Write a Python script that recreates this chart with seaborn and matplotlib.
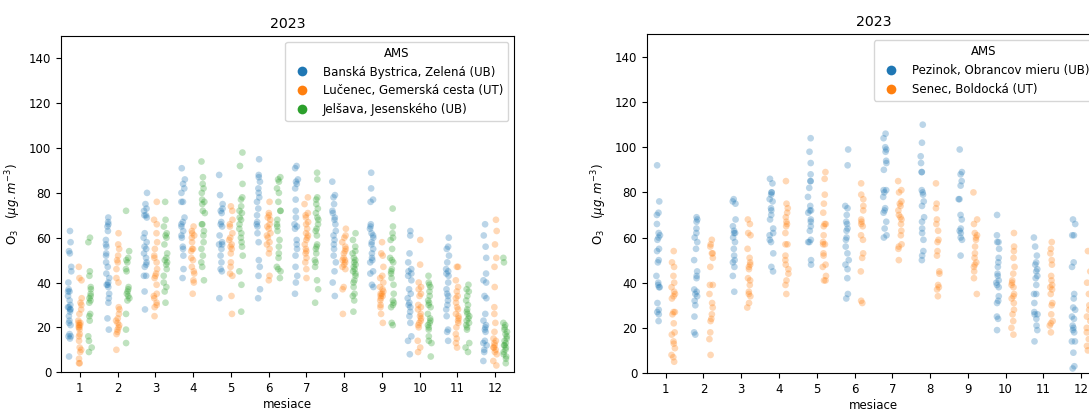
import numpy as np
import pandas as pd
import seaborn as sns
import matplotlib.pyplot as plt

# month categories
months = list(range(1, 13))

# left panel stations (daily O3 values per month)
bb_zelena = [
    [63, 58, 54, 53, 47, 45, 40, 37, 36, 36, 34, 32, 30, 29, 28, 28, 29, 27, 25, 23, 22, 21, 17, 16, 15, 16, 7],
    [69, 67, 66, 65, 63, 59, 57, 56, 53, 52, 49, 47, 44, 42, 40, 39, 38, 39, 35, 33, 31, 24, 19],
    [80, 75, 73, 72, 70, 70, 69, 62, 60, 58, 56, 55, 53, 51, 49, 48, 47, 43, 43, 36, 28],
    [91, 86, 84, 82, 80, 76, 76, 69, 67, 66, 65, 63, 61, 60, 56, 55, 52, 46, 42],
    [88, 79, 75, 73, 72, 71, 67, 66, 65, 61, 58, 57, 57, 55, 52, 49, 46, 45, 33],
    [95, 88, 87, 85, 82, 80, 78, 76, 73, 70, 67, 66, 65, 62, 58, 50, 47, 43, 37, 33],
    [92, 91, 86, 85, 84, 82, 77, 72, 69, 66, 65, 64, 59, 57, 55, 52, 47, 43, 40, 35],
    [85, 79, 78, 75, 72, 71, 69, 68, 66, 63, 61, 59, 57, 55, 52, 49, 45, 40, 34],
    [89, 82, 77, 76, 66, 65, 64, 62, 61, 60, 58, 57, 55, 53, 51, 50, 49, 45, 44, 39, 38],
    [63, 61, 53, 49, 46, 45, 44, 43, 41, 37, 35, 33, 31, 30, 29, 27, 25, 22, 16, 14, 8],
    [60, 56, 55, 52, 49, 46, 45, 44, 43, 40, 37, 35, 34, 32, 30, 28, 25, 19, 18, 14],
    [66, 61, 56, 51, 44, 41, 40, 34, 33, 26, 23, 21, 20, 19, 18, 14, 13, 12, 10, 9, 5],
]
lc_gemerska = [
    [47, 42, 41, 33, 31, 30, 28, 26, 23, 22, 21, 20, 21, 19, 17, 16, 14, 11, 10, 9, 6, 4, 4, 22, 20],
    [62, 57, 55, 52, 50, 49, 46, 42, 40, 29, 28, 26, 24, 23, 22, 21, 20, 19, 18, 17, 10],
    [76, 68, 66, 62, 58, 55, 52, 51, 49, 46, 44, 43, 42, 39, 35, 34, 33, 31, 30, 29, 25],
    [65, 63, 62, 61, 60, 58, 55, 55, 54, 51, 50, 47, 45, 44, 41, 40, 35],
    [74, 72, 68, 66, 65, 62, 60, 59, 57, 56, 55, 53, 49, 47, 44, 43, 34, 26],
    [76, 71, 70, 69, 68, 66, 65, 64, 62, 61, 60, 58, 57, 55, 53, 43, 41],
    [78, 75, 71, 70, 69, 67, 66, 64, 62, 61, 60, 59, 57, 55, 54, 53, 51, 49, 46, 42],
    [64, 61, 60, 58, 56, 55, 54, 53, 51, 50, 50, 49, 48, 47, 46, 38, 37, 26],
    [58, 53, 52, 47, 43, 42, 40, 38, 37, 36, 35, 35, 34, 34, 33, 32, 30, 29, 26, 22],
    [59, 48, 40, 38, 37, 35, 34, 30, 29, 28, 26, 25, 24, 23, 22, 21, 20, 14, 11, 9],
    [47, 47, 41, 38, 36, 34, 33, 31, 29, 28, 26, 25, 24, 23, 22, 20, 17, 15, 13, 11],
    [68, 63, 57, 51, 47, 38, 29, 26, 22, 18, 15, 14, 13, 12, 11, 11, 10, 9, 8, 5, 3],
]
je_jesenskeho = [
    [60, 58, 45, 43, 38, 37, 35, 34, 33, 32, 31, 26, 25, 23, 16, 14, 11, 9],
    [72, 54, 51, 50, 49, 46, 45, 38, 37, 36, 35, 34, 33, 32, 26, 19, 13],
    [76, 68, 65, 62, 61, 60, 57, 53, 51, 50, 49, 48, 46, 43, 40, 38, 36, 31],
    [94, 87, 84, 82, 80, 77, 76, 75, 72, 71, 66, 66, 63, 61, 58, 55, 52, 49, 47, 41],
    [98, 92, 84, 78, 77, 74, 72, 71, 69, 68, 66, 64, 62, 60, 58, 56, 52, 45, 39, 27],
    [87, 86, 85, 82, 80, 76, 72, 72, 68, 66, 65, 63, 59, 56, 53, 51, 47, 46, 45, 42],
    [89, 86, 78, 77, 75, 73, 71, 69, 68, 66, 64, 63, 61, 57, 56, 55, 53, 50, 49, 47, 41, 37, 31],
    [62, 59, 56, 54, 53, 51, 50, 49, 48, 47, 46, 45, 44, 43, 41, 40, 38, 35, 34, 32, 27],
    [73, 65, 62, 60, 59, 55, 51, 50, 49, 46, 45, 44, 42, 39, 35, 32, 31, 30, 29, 22, 21],
    [43, 40, 39, 38, 36, 34, 32, 31, 30, 29, 26, 24, 23, 22, 21, 20, 19, 16, 14, 13, 7],
    [39, 37, 36, 34, 32, 30, 28, 27, 26, 25, 24, 23, 22, 21, 20, 19, 13, 11, 9],
    [51, 49, 22, 21, 20, 19, 18, 17, 16, 15, 14, 13, 12, 12, 11, 10, 9, 8, 7, 6, 4],
]

# right panel stations
pk_obrancov = [
    [92, 76, 71, 70, 66, 62, 61, 60, 59, 55, 54, 50, 49, 43, 40, 39, 38, 38, 31, 28, 27, 26, 23],
    [69, 68, 67, 64, 62, 60, 58, 55, 50, 45, 43, 42, 37, 36, 35, 34, 32, 30, 25, 18, 17],
    [77, 76, 75, 68, 65, 63, 62, 62, 60, 58, 55, 52, 50, 49, 47, 43, 36],
    [86, 84, 80, 80, 79, 77, 76, 73, 72, 70, 68, 64, 62, 61, 59, 58, 53, 47, 45],
    [104, 98, 93, 88, 85, 85, 82, 78, 74, 72, 72, 71, 68, 67, 65, 63, 59, 58, 58, 50, 48],
    [99, 92, 74, 73, 70, 67, 66, 64, 63, 60, 59, 56, 53, 50, 48, 46, 42, 35, 33],
    [106, 104, 100, 99, 98, 94, 93, 90, 81, 81, 80, 78, 73, 72, 71, 67, 64, 61, 60],
    [110, 102, 96, 93, 89, 89, 81, 80, 79, 76, 74, 69, 67, 64, 62, 59, 54, 52, 50],
    [99, 89, 88, 85, 83, 77, 77, 70, 68, 64, 63, 62, 60, 59, 52],
    [70, 61, 58, 58, 55, 51, 49, 47, 44, 43, 41, 40, 39, 38, 34, 32, 31, 25, 24, 19],
    [60, 56, 52, 49, 48, 46, 45, 43, 42, 39, 35, 35, 31, 27, 26, 26, 24, 21, 19, 14],
    [68, 66, 61, 61, 49, 47, 35, 33, 29, 28, 25, 24, 21, 20, 19, 18, 14, 14, 9, 3, 2],
]
se_boldocka = [
    [54, 49, 47, 43, 40, 38, 36, 35, 34, 33, 27, 27, 26, 22, 18, 17, 14, 13, 11, 8, 7, 5],
    [59, 57, 56, 53, 53, 51, 47, 39, 39, 35, 31, 29, 26, 24, 23, 18, 15, 8],
    [68, 66, 62, 61, 55, 51, 49, 48, 47, 46, 42, 41, 39, 36, 35, 34, 31, 29],
    [85, 75, 73, 71, 69, 67, 66, 65, 62, 57, 57, 52, 50, 48, 46, 44, 41, 39, 35],
    [89, 86, 79, 75, 71, 66, 66, 65, 61, 58, 57, 57, 53, 52, 48, 47, 43, 41, 41],
    [84, 79, 77, 74, 72, 68, 67, 66, 65, 61, 59, 53, 51, 45, 32, 31],
    [85, 81, 80, 76, 75, 74, 72, 70, 69, 68, 66, 63, 61, 57, 56, 55, 50],
    [84, 75, 73, 68, 66, 63, 59, 58, 54, 52, 45, 44, 39, 38, 37, 34],
    [80, 68, 66, 62, 61, 60, 59, 56, 53, 51, 49, 48, 47, 45, 42, 35],
    [62, 56, 54, 51, 47, 44, 41, 40, 39, 38, 35, 34, 33, 31, 28, 26, 23, 20, 17],
    [58, 55, 53, 50, 48, 43, 41, 39, 38, 37, 35, 31, 30, 26, 23, 22, 21, 18],
    [54, 45, 40, 35, 30, 28, 25, 23, 20, 18, 15, 12, 10],
]

left_names = ["Banská Bystrica, Zelená (UB)", "Lučenec, Gemerská cesta (UT)", "Jelšava, Jesenského (UB)"]
right_names = ["Pezinok, Obrancov mieru (UB)", "Senec, Boldocká (UT)"]
colors = ["#1f77b4", "#ff7f0e", "#2ca02c"]


def to_long(names, series):
    rows = []
    for name, per_month in zip(names, series):
        for m, vals in zip(months, per_month):
            for v in vals:
                rows.append({"mesiace": m, "O3": v, "AMS": name})
    return pd.DataFrame(rows)


def draw_panel(ax, df, names, jitter):
    sns.stripplot(data=df, x="mesiace", y="O3", hue="AMS", hue_order=names,
                  order=months, palette=colors[:len(names)], dodge=True,
                  jitter=jitter, alpha=0.3, size=4.8, linewidth=0, ax=ax)
    ax.set_ylim(0, 150)
    ax.set_title("2023")
    ax.set_xlabel("mesiace", labelpad=2)
    ax.set_ylabel(r"O$_3$   ($\mu g. m^{-3}$)")
    leg = ax.legend(title="AMS", loc="upper right")
    for h in leg.legend_handles:
        h.set_alpha(1)
        if hasattr(h, "set_markersize"):
            h.set_markersize(7)
        else:
            h.set_sizes([45])


plt.rcParams["font.size"] = 8.5
np.random.seed(3)

fig = plt.figure(figsize=(10.89, 4.09), dpi=100)
ax1 = fig.add_axes([0.056, 0.09, 0.416, 0.822])
ax2 = fig.add_axes([0.594, 0.088, 0.416, 0.828])

draw_panel(ax1, to_long(left_names, [bb_zelena, lc_gemerska, je_jesenskeho]), left_names, 0.15)
draw_panel(ax2, to_long(right_names, [pk_obrancov, se_boldocka]), right_names, 0.1)

fig.savefig("out.png", dpi=100)
